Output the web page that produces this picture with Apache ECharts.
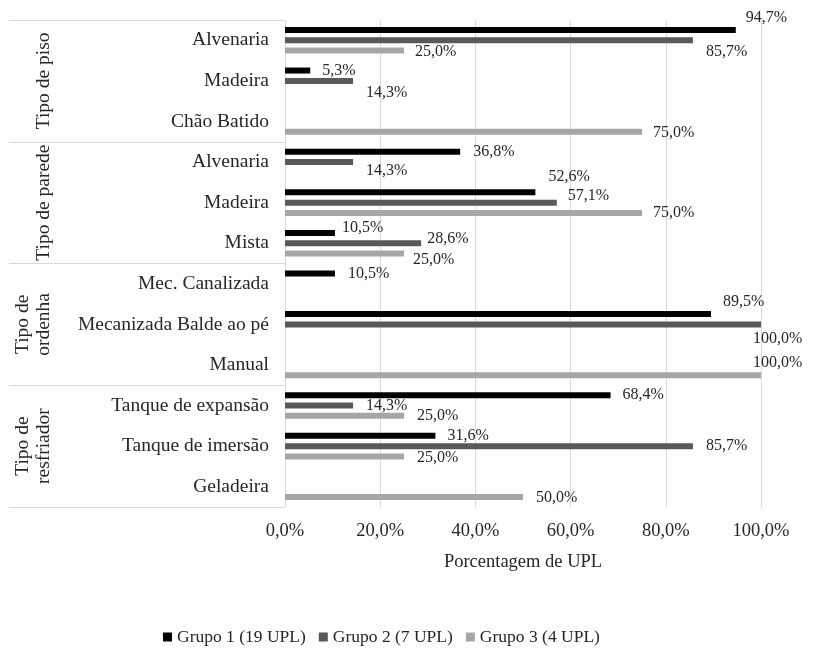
<!DOCTYPE html>
<html>
<head>
<meta charset="utf-8">
<script src="https://cdn.jsdelivr.net/npm/echarts@6/dist/echarts.min.js"></script>
<style>
  html, body { margin: 0; padding: 0; background: #ffffff; }
  #chart { width: 823px; height: 662px; }
</style>
</head>
<body>
<div id="chart"></div>
<script>
// Categories, top to bottom
const categories = [
  'Alvenaria', 'Madeira', 'Chão Batido',
  'Alvenaria', 'Madeira', 'Mista',
  'Mec. Canalizada', 'Mecanizada Balde ao pé', 'Manual',
  'Tanque de expansão', 'Tanque de imersão', 'Geladeira'
];
// Group headings, one per block of three categories
const groups = ['Tipo de piso', 'Tipo de parede', 'Tipo de\nordenha', 'Tipo de\nresfriador'];
const seriesNames = ['Grupo 1 (19 UPL)', 'Grupo 2 (7 UPL)', 'Grupo 3 (4 UPL)'];

// Percentage of UPL per category (null = no occurrence)
const grupo1 = [94.7, 5.3, null, 36.8, 52.6, 10.5, 10.5, 89.5, null, 68.4, 31.6, null];
const grupo2 = [85.7, 14.3, null, 14.3, 57.1, 28.6, null, 100.0, null, 14.3, 85.7, null];
const grupo3 = [25.0, null, 75.0, null, 75.0, 25.0, null, null, 100.0, 25.0, 25.0, 50.0];

// Value axis range
const xMin = 0, xMax = 100, xStep = 20;

// Label nudges [dx, dy] so neighbouring value labels do not collide
const nudge1 = [[-1,-12],[1,0],null,[2,0],[2,-16],[-4,-5],[2,0],[1,-12],null,[1,0],[1,0],null];
const nudge2 = [[2,12],[2,12],null,[2,9],[0,-7],[-5,-4],null,[-19,14],null,[2,0],[2,0],null];
const nudge3 = [[0,1],null,[0,1],null,[0,0],[-2,6],null,null,[-19,-12],[2,0],[2,1],[2,1]];

const colors = ['#000000', '#595959', '#a6a6a6'];
const FONT = '"Liberation Serif", "Times New Roman", serif';
const TEXT = '#262626';
const LINE = '#d9d9d9';

const pct = v => Number(v).toFixed(1).replace('.', ',') + '%';

function buildData(values, nudges) {
  return values.map((v, i) => v == null ? '-' : {
    value: v,
    label: { offset: nudges[i] || [0, 0] }
  });
}

const seriesValues = [grupo1, grupo2, grupo3];
const seriesNudges = [nudge1, nudge2, nudge3];

const chart = echarts.init(document.getElementById('chart'), null, { renderer: 'canvas' });

chart.setOption({
  animation: false,
  backgroundColor: '#ffffff',
  textStyle: { fontFamily: FONT },
  grid: { left: 285, right: 62, top: 20, bottom: 155, outerBoundsMode: 'none' },
  legend: {
    data: seriesNames,
    left: 163,
    top: 628,
    padding: 0,
    icon: 'rect',
    itemWidth: 9,
    itemHeight: 9,
    itemGap: 13,
    textStyle: { fontFamily: FONT, fontSize: 17.5, color: TEXT }
  },
  xAxis: {
    type: 'value',
    min: xMin,
    max: xMax,
    interval: xStep,
    axisLine: { show: false },
    axisTick: { show: false },
    splitLine: { show: true, lineStyle: { color: LINE, width: 1 } },
    axisLabel: {
      formatter: v => pct(v),
      fontFamily: FONT,
      fontSize: 18.5,
      color: TEXT,
      margin: 15
    },
    name: 'Porcentagem de UPL',
    nameLocation: 'middle',
    nameGap: 46,
    nameTextStyle: { fontFamily: FONT, fontSize: 18.5, color: TEXT }
  },
  yAxis: [
    {
      // category labels next to the bars
      type: 'category',
      data: categories,
      inverse: true,
      axisLine: { show: true, lineStyle: { color: LINE, width: 1 } },
      axisTick: { show: false },
      axisLabel: {
        interval: 0,
        margin: 16,
        fontFamily: FONT,
        fontSize: 19.5,
        color: TEXT
      }
    },
    {
      // rotated group headings
      type: 'category',
      data: groups,
      inverse: true,
      position: 'left',
      offset: 223,
      axisLine: { show: false },
      axisTick: { show: false },
      axisLabel: {
        interval: 0,
        rotate: 90,
        margin: 8,
        fontFamily: FONT,
        fontSize: 19.5,
        lineHeight: 21,
        color: TEXT
      }
    },
    {
      // horizontal separators between the groups
      type: 'category',
      data: groups,
      inverse: true,
      position: 'left',
      offset: 276,
      axisLine: { show: false },
      axisLabel: { show: false },
      axisTick: {
        show: true,
        interval: 0,
        inside: true,
        length: 276,
        lineStyle: { color: LINE, width: 1 }
      }
    }
  ],
  series: seriesValues.map((vals, s) => ({
    name: seriesNames[s],
    type: 'bar',
    yAxisIndex: 0,
    barWidth: 6,
    barGap: '72%',
    itemStyle: { color: colors[s] },
    label: {
      show: true,
      position: 'right',
      distance: 11,
      formatter: p => pct(p.value),
      fontFamily: FONT,
      fontSize: 16,
      color: TEXT
    },
    data: buildData(vals, seriesNudges[s])
  }))
});
</script>
</body>
</html>
